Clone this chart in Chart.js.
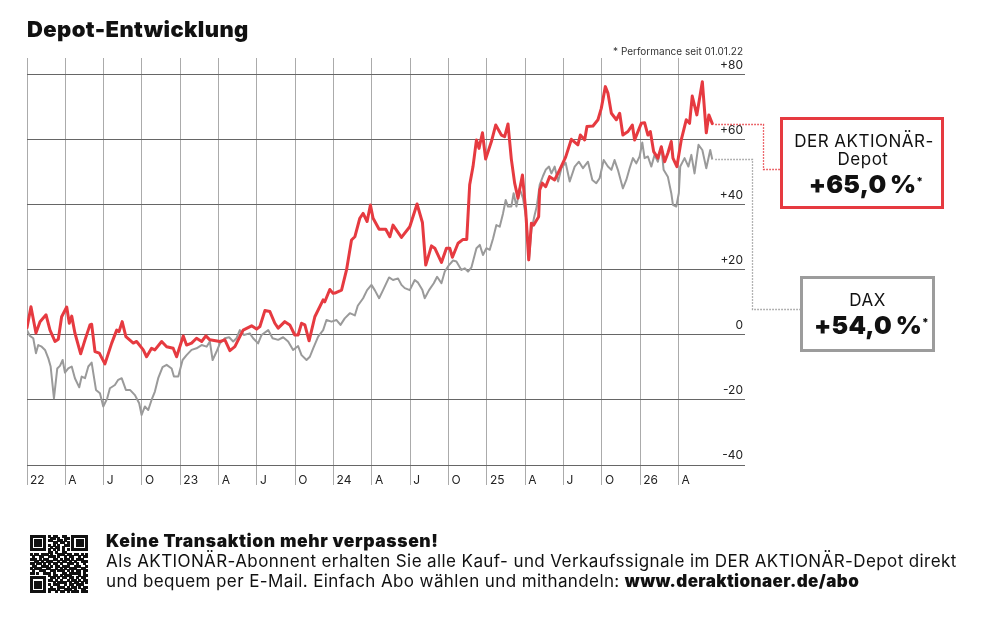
<!DOCTYPE html>
<html><head><meta charset="utf-8">
<script src="https://cdn.jsdelivr.net/npm/chart.js@4.4.1/dist/chart.umd.min.js"></script>
<style>
html,body{margin:0;padding:0;background:#fff;}
body{width:1000px;height:620px;position:relative;overflow:hidden;font-family:Inter,"Open Sans",sans-serif;color:#111;}
#wrap{position:absolute;left:0;top:0;width:1000px;height:620px;}
.abs{position:absolute;white-space:nowrap;}
#title{left:27px;top:16px;font-size:22px;font-weight:900;line-height:26px;letter-spacing:0.4px;}
.box{position:absolute;box-sizing:border-box;background:#fff;}
#redbox{left:780px;top:117px;width:164px;height:92px;border:3px solid #e63a40;}
#graybox{left:800px;top:276px;width:135px;height:76px;border:3px solid #9c9c9c;}
.c{position:absolute;text-align:center;white-space:nowrap;}
.lbl{font-size:17px;line-height:20px;font-weight:400;color:#111;letter-spacing:0.5px;}
.big{font-size:25px;line-height:28px;font-weight:900;color:#111;letter-spacing:0.2px;}
.big sup{font-size:11px;vertical-align:top;position:relative;top:-3px;}
#qr{position:absolute;left:30px;top:535px;}
#fh{left:106px;top:531px;font-size:17.5px;line-height:20px;font-weight:900;letter-spacing:0.6px;}
.fl{left:106px;font-size:17px;line-height:20px;font-weight:400;letter-spacing:0.4px;}
.fl b{font-weight:900;}
</style>
</head>
<body>
<div id="wrap"><canvas id="chart" width="1000" height="620"></canvas></div>
<div class="abs" id="title">Depot-Entwicklung</div>

<div class="box" id="redbox"></div>
<div class="c lbl" style="left:782px;width:164px;top:131px;">DER AKTIONÄR-</div>
<div class="c lbl" style="left:781px;width:164px;top:149px;">Depot</div>
<div class="c big" style="left:784px;width:164px;top:170px;">+65,0&#8201;%<sup>*</sup></div>

<div class="box" id="graybox"></div>
<div class="c lbl" style="left:800px;width:135px;top:290px;">DAX</div>
<div class="c big" style="left:804px;width:135px;top:311px;">+54,0&#8201;%<sup>*</sup></div>

<canvas id="qr" width="58" height="58"></canvas>
<div class="abs" id="fh">Keine Transaktion mehr verpassen!</div>
<div class="abs fl" style="top:551px;">Als AKTIONÄR-Abonnent erhalten Sie alle Kauf- und Verkaufssignale im DER AKTIONÄR-Depot direkt</div>
<div class="abs fl" style="top:571px;">und bequem per E-Mail. Einfach Abo wählen und mithandeln: <b>www.deraktionaer.de/abo</b></div>

<script>
// ---- Data (x = months since 01.01.2022, y = performance in %) ----
const tickLabels = ["22","A","J","O","23","A","J","O","24","A","J","O","25","A","J","O","26","A"];
const tickMonths = [0,3,6,9,12,15,18,21,24,27,30,33,36,39,42,45,48,51];
const yTicks = [-40,-20,0,20,40,60,80];
const noteText = "* Performance seit 01.01.22";

const depotMonths = [0,0.31,0.70,1.02,1.49,1.80,2.19,2.45,2.71,3.11,3.31,3.50,3.75,4.20,4.54,4.93,5.06,5.32,5.66,6.10,6.63,7.02,7.20,7.45,7.74,8.32,8.58,9.10,9.36,9.75,10.01,10.54,10.93,11.44,11.71,12.23,12.49,12.88,13.27,13.67,14.00,14.31,15.10,15.49,15.88,16.27,16.66,16.92,17.58,17.97,18.23,18.62,19.01,19.40,19.66,20.18,20.57,20.96,21.22,21.49,21.75,22.08,22.53,23.18,23.31,23.70,23.96,24.10,24.62,25.01,25.40,25.66,26.05,26.31,26.62,26.88,27.09,27.56,28.08,28.40,28.65,29.31,29.96,30.53,30.95,31.21,31.66,31.92,32.44,32.83,33.09,33.30,33.74,34.13,34.42,34.65,34.91,35.18,35.38,35.65,35.90,36.35,36.69,37.13,37.39,37.65,37.91,38.17,38.43,38.78,39.03,39.27,39.48,39.66,40.05,40.13,40.34,40.60,40.91,41.30,41.69,42.16,42.61,43.12,43.31,43.65,43.83,44.30,44.69,44.95,45.27,45.47,45.74,46.13,46.39,46.64,47.04,47.38,47.56,48.08,48.34,48.60,48.79,49.05,49.38,49.65,49.91,50.16,50.43,50.56,50.87,51.21,51.60,51.86,52.07,52.43,52.86,53.17,53.37,53.64];
const depotValues = [2.2,8.7,0.6,4.1,6.2,1.5,-2,-1.3,5.6,8.6,3.6,5.8,0.6,-5.8,-1.5,3.1,3.3,-5.1,-5.6,-8.9,-2.5,1.5,1,4.1,-0.5,-2.5,-2,-4.6,-6.7,-4.1,-4.6,-2,-3.6,-4.1,-6.7,-0.3,-3.1,-2.5,-1,-2,-0.3,-1.5,-2,-1.5,-4.8,-3.6,-0.5,1.5,2.8,1.8,2.6,7.5,7.2,3.6,2.1,4.1,3.1,0,0,3.6,3.1,-1.8,5.6,10.8,10.2,14,12.8,12.9,13.8,20,29.2,30.2,35.9,37.4,34.9,40,35.9,32.5,32.5,30.2,33.8,30,33.3,40.3,34.6,21.5,27.4,26.7,22.3,26.7,26.7,23.9,28.2,29.4,29.4,46.2,51.8,60,57.4,62.2,54.1,59.5,64.6,61.5,61,64.9,54.1,46.7,42.1,49.2,38.5,23.1,34.4,33.8,36.4,44.6,46.7,45.6,48.7,47.7,50.8,54.7,60.2,58.5,61.5,60,64.1,64.3,66.2,69.7,76.4,74.4,68.2,66.2,68.2,61.5,62.6,64.6,60,65.1,65.3,61.5,62.6,56.4,54.4,57.9,53.3,55.9,59.5,54.4,51.8,60,66.2,65.1,73.5,67.7,77.9,62.2,67.7,65];

const daxMonths = [0,0.23,0.49,0.70,0.88,1.15,1.41,1.67,1.85,2.11,2.37,2.58,2.79,2.97,3.23,3.50,3.75,4.09,4.28,4.54,4.80,5.06,5.40,5.71,5.97,6.28,6.49,6.88,7.14,7.41,7.74,8.06,8.45,8.78,8.97,9.23,9.49,9.75,10.01,10.27,10.61,10.93,11.32,11.50,11.84,12.18,12.49,12.88,13.27,13.67,14.06,14.31,14.53,14.84,15.10,15.49,15.82,16.14,16.40,16.66,16.97,17.44,17.70,18.09,18.36,18.88,19.22,19.66,20.05,20.44,20.83,21.22,21.49,21.88,22.14,22.40,22.79,23.18,23.44,23.83,24.23,24.54,24.87,25.27,25.66,25.89,26.31,26.62,26.96,27.22,27.56,27.87,28.34,28.65,29.04,29.31,29.57,29.96,30.35,30.61,30.95,31.13,31.47,31.84,32.10,32.44,32.70,33.03,33.35,33.61,34.00,34.26,34.52,34.79,35.18,35.44,35.69,35.96,36.22,36.48,36.74,37.00,37.26,37.47,37.65,37.91,38.09,38.31,38.56,38.82,39.09,39.29,39.48,39.74,39.90,40.13,40.39,40.60,40.86,41.05,41.30,41.57,41.83,42.16,42.48,42.87,43.20,43.52,43.91,44.25,44.56,44.82,45.14,45.47,45.74,45.99,46.25,46.64,46.91,47.17,47.43,47.69,47.95,48.16,48.34,48.60,48.87,49.12,49.38,49.65,49.83,50.16,50.43,50.56,50.82,51.02,51.13,51.47,51.77,52.00,52.25,52.56,52.86,53.17,53.48,53.64];
const daxValues = [1.5,-0.3,-1,-5.6,-3.1,-3.6,-4.6,-7.2,-9.7,-19.5,-10.3,-9.5,-7.7,-11.6,-10.3,-9.7,-13.3,-16.1,-12.8,-13.3,-9.7,-8.5,-16.9,-17.9,-22,-19.5,-16.4,-15.4,-13.8,-13.3,-16.9,-16.9,-18.5,-21,-24.6,-22,-23.1,-20,-17.4,-13.3,-9.9,-9.2,-10.3,-12.8,-12.8,-7.7,-6.2,-4.6,-4.1,-3.1,-3.6,-2,-7.7,-5.1,-2.6,-1,-0.7,-2,-1,1.5,0,0.5,-1,-2.6,0,1.5,-1,-1.5,-0.7,-2,-4.6,-3.4,-6.2,-7.7,-6.7,-4.1,-0.5,1.5,4.6,4.1,4.6,3.1,5.1,6.7,6,9,11.3,13.8,15.4,13.8,11.3,13.8,17.7,16.9,17.4,15.4,14.4,13.8,16.9,16.1,13.8,11.3,13.8,15.9,17.9,15.9,19.5,21.5,22.9,22.6,20,20.5,19.5,20.8,26.7,27.7,24.6,26.7,26.2,29.7,33.8,33.3,37.4,41.5,39.5,39.5,43.6,39.5,45,42.1,35.4,23.1,32.3,37,39.5,46.2,48.9,50.8,51.8,49.7,51.8,47.2,51.3,53,47.2,51.8,53.3,51.3,53.3,47.7,46.7,48.2,53.8,51.8,50.8,53.8,50.8,45.1,47.7,51.3,54.4,52.8,54.9,59.2,54.4,54.9,51.8,55.4,53.3,57.9,50.8,48.7,43.6,40,39.5,43.6,51.8,54.4,51.8,55.4,49.7,58.5,56.9,51.3,56.9,54];

const RED = '#e63a40', GRAY = '#9a9a9a';

// QR-like decorative pattern
const qrRows = [
"1111111010110011001111111",
"1000001001101001101000001",
"1011101011001101001011101",
"1011101000110110101011101",
"1011101010101001101011101",
"1000001001011010001000001",
"1111111010101010101111111",
"0000000011010011000000000",
"1011011101001110110110101",
"0100110011101001011001011",
"1110101100110101101011100",
"0011010111001011010100111",
"1101101010110100111010010",
"0110011101011011100111001",
"1011100110010101011100110",
"0100111001101110101011011",
"1101001110100011011111010",
"0000000010110101110001011",
"1111111001101011011010110",
"1000001011010100101101011",
"1011101000101111010110101",
"1011101010111001011011100",
"1011101001001110101101011",
"1000001011101001110100110",
"1111111010010110101110111"];
(function(){
  const c = document.getElementById('qr').getContext('2d');
  const n = qrRows.length, s = 58 / n;
  c.fillStyle = '#111';
  qrRows.forEach((row, r) => {
    for (let i = 0; i < row.length; i++) {
      if (row[i] === '1') c.fillRect(Math.floor(i * s), Math.floor(r * s), Math.ceil(s), Math.ceil(s));
    }
  });
})();

const connectors = {
  id: 'connectors',
  afterDatasetsDraw(chart) {
    const {ctx, scales: {x, y}} = chart;
    const draw = (months, vals, color, bendX, targetY, endX) => {
      const lx = x.getPixelForValue(months[months.length - 1]);
      const ly = Math.round(y.getPixelForValue(vals[vals.length - 1])) + 0.5;
      ctx.save();
      ctx.strokeStyle = color;
      ctx.lineWidth = 1.3;
      ctx.setLineDash([1.5, 1.5]);
      ctx.beginPath();
      ctx.moveTo(lx + 3, ly);
      ctx.lineTo(bendX, ly);
      ctx.lineTo(bendX, targetY);
      ctx.lineTo(endX, targetY);
      ctx.stroke();
      ctx.restore();
    };
    draw(depotMonths, depotValues, RED, 763.5, 169.5, 780);
    draw(daxMonths, daxValues, GRAY, 752.5, 309.5, 800);
    // footnote, right-aligned to the plot edge
    ctx.save();
    ctx.font = '400 10px Inter';
    ctx.fillStyle = '#333';
    ctx.textAlign = 'right';
    ctx.textBaseline = 'alphabetic';
    ctx.fillText(noteText, chart.chartArea.right - 2, 55);
    ctx.restore();
  }
};

const toPts = (xs, ys) => xs.map((m, i) => ({x: m, y: ys[i]}));

new Chart(document.getElementById('chart'), {
  type: 'line',
  data: {
    datasets: [
      {label: 'DER AKTIONÄR-Depot', data: toPts(depotMonths, depotValues), borderColor: RED, borderWidth: 3, pointRadius: 0, tension: 0, borderJoinStyle: 'round', borderCapStyle: 'round'},
      {label: 'DAX', data: toPts(daxMonths, daxValues), borderColor: GRAY, borderWidth: 2, pointRadius: 0, tension: 0, borderJoinStyle: 'round'}
    ]
  },
  options: {
    responsive: false,
    animation: false,
    events: [],
    layout: {padding: {left: 27, top: 58, right: 255, bottom: 125}},
    plugins: {legend: {display: false}, tooltip: {enabled: false}},
    scales: {
      x: {
        type: 'linear', min: 0, max: 56.2,
        afterBuildTicks: s => { s.ticks = tickMonths.map(v => ({value: v})); },
        afterFit: s => { s.height = 30; },
        ticks: {
          callback: (v, i) => tickLabels[i] ?? '',
          align: 'start', labelOffset: 3, padding: -12,
          autoSkip: false, maxRotation: 0, minRotation: 0,
          color: '#222', font: {family: 'Inter', size: 12}
        },
        grid: {color: '#ababab', lineWidth: 1, tickLength: 20, drawTicks: true},
        border: {display: false}
      },
      y: {
        type: 'linear', position: 'right', min: -40, max: 85.2,
        afterBuildTicks: s => { s.ticks = yTicks.map(v => ({value: v})); },
        afterFit: s => { s.width = 0; },
        ticks: {
          mirror: true, padding: -2, labelOffset: -10,
          callback: v => (v > 0 ? '+' + v : String(v)),
          color: '#222', font: {family: 'Inter', size: 12}
        },
        grid: {color: '#666666', lineWidth: 1, drawTicks: false},
        border: {display: false}
      }
    }
  },
  plugins: [connectors]
});
</script>
</body></html>
